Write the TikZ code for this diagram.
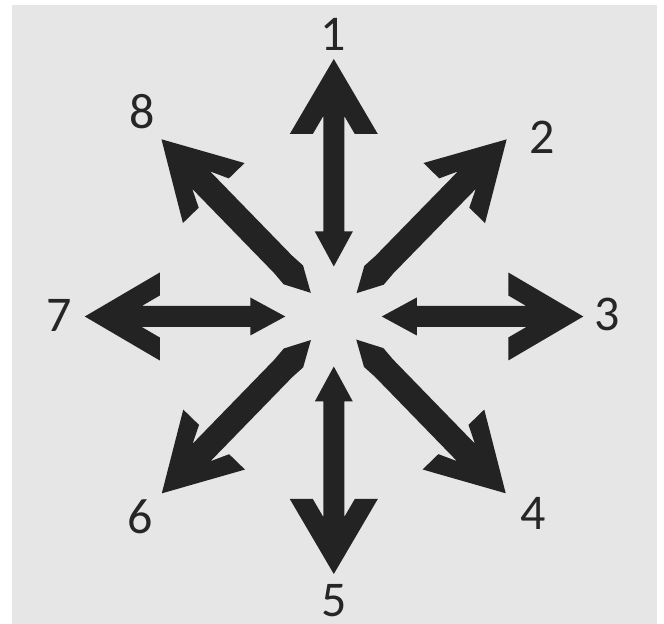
\documentclass[tikz,border=0pt]{standalone}
\usepackage{fontspec}
\setmainfont{Carlito}
\usepackage{tikz}
\definecolor{bggray}{RGB}{231,230,231}
\definecolor{arrowdark}{RGB}{35,35,35}
\definecolor{labeldark}{RGB}{38,38,38}

\begin{document}
\begin{tikzpicture}[
    x=0.5pt, y=0.5pt,
    every node/.style={font=\fontsize{25}{30}\selectfont, text=labeldark, inner sep=0pt},
    arrowfill/.style={fill=arrowdark, draw=none},
    paper/.style={fill=white},
    panel/.style={fill=bggray}
  ]

    % page and grey panel
    \fill[paper] (-333.8,-307.5) rectangle (330.2,316.5);
    \fill[panel] (-321.8,-307.5) rectangle (323.2,311.5);
    \useasboundingbox (-333.8,-307.5) rectangle (330.2,316.5);

    % double-headed arrows 1, 3, 5, 7
    \foreach \ang/\ri/\ro in {0/48/249.5, 90/50/257.5, 180/48.5/249, 270/50/257.5} {
      \fill[arrowfill, rotate=\ang]
        (\ro,0) -- ({\ro-75},44) -- ({\ro-75},21) -- ({\ro-57},10.5)
        -- ({\ri+35},10.5) -- ({\ri+35},19) -- (\ri,0)
        -- ({\ri+35},-19) -- ({\ri+35},-10.5) -- ({\ro-57},-10.5)
        -- ({\ro-75},-21) -- ({\ro-75},-44) -- cycle;
    }

    % diagonal arrows 2, 4, 6, 8 with pointed inner ends
    \foreach \ang/\ri/\ro in {45.7/32.6/247.5, 134.2/33/247.2, 225.8/32.8/246.7, 314.2/32.2/246.6} {
      \fill[arrowfill, rotate=\ang]
        (\ro,0) -- ({\ro-75},43) -- ({\ro-75},21) -- ({\ro-57},12.5)
        -- ({\ri+40},12.5) -- ({\ri+25},13.5) -- (\ri,0)
        -- ({\ri+25},-13.5) -- ({\ri+40},-12.5) -- ({\ro-57},-12.5)
        -- ({\ro-75},-21) -- ({\ro-75},-43) -- cycle;
    }

    % direction numbers
    \node (n1) at (-0.5,282.5) {1};
    \node (n2) at (208.2,179.5) {2};
    \node (n3) at (272.9,2.5) {3};
    \node (n4) at (199.2,-196.5) {4};
    \node (n5) at (0.2,-284.5) {5};
    \node (n6) at (-193.8,-200.5) {6};
    \node (n7) at (-274.8,1.5) {7};
    \node (n8) at (-191.3,205) {8};

  \end{tikzpicture}
\end{document}
